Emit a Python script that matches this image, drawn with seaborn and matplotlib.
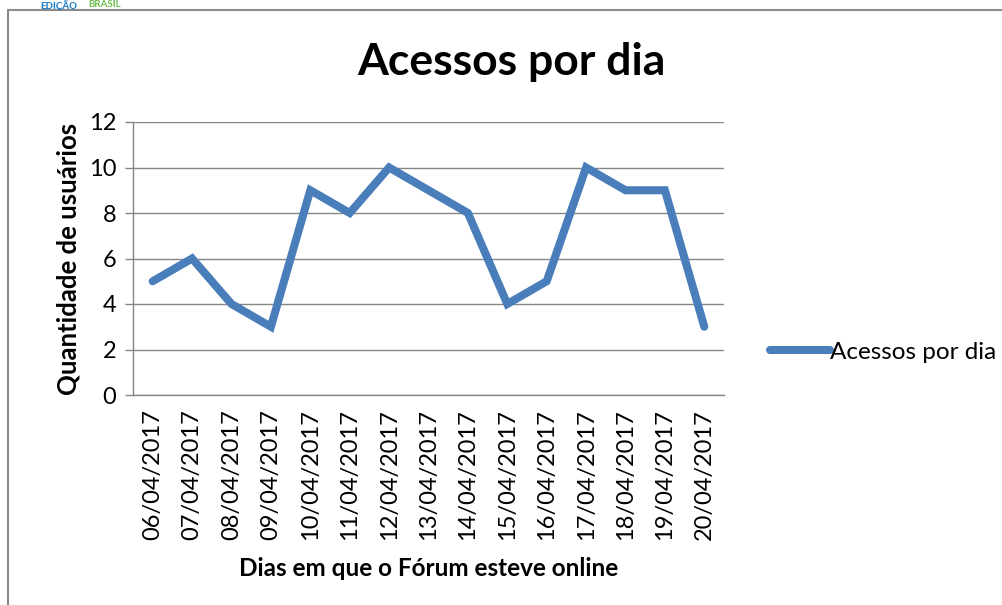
import matplotlib
matplotlib.use("Agg")
import matplotlib.pyplot as plt
import pandas as pd
import seaborn as sns
from matplotlib.lines import Line2D

days = ["06/04/2017", "07/04/2017", "08/04/2017", "09/04/2017", "10/04/2017",
        "11/04/2017", "12/04/2017", "13/04/2017", "14/04/2017", "15/04/2017",
        "16/04/2017", "17/04/2017", "18/04/2017", "19/04/2017", "20/04/2017"]
acessos = [5, 6, 4, 3, 9, 8, 10, 9, 8, 4, 5, 10, 9, 9, 3]
y_ticks = [0, 2, 4, 6, 8, 10, 12]

series_name = "Acessos por dia"
line_color = "#4a7ebb"
grid_color = "#868686"

sns.set_style("white")
plt.rcParams["font.family"] = ["Lato", "DejaVu Sans"]
plt.rcParams["text.color"] = "black"
plt.rcParams["axes.labelcolor"] = "black"
plt.rcParams["xtick.labelcolor"] = "black"
plt.rcParams["ytick.labelcolor"] = "black"

df = pd.DataFrame({"pos": range(len(days)), "valor": acessos})

fig = plt.figure(figsize=(10.03, 6.05), dpi=100)
ax = fig.add_axes([133 / 1003, 1 - 395 / 605, (724 - 133) / 1003, (395 - 122) / 605])

sns.lineplot(data=df, x="pos", y="valor", ax=ax, color=line_color,
             linewidth=5.8, solid_capstyle="round", solid_joinstyle="miter",
             legend=False, zorder=3)

ax.set_xlim(-0.5, len(days) - 0.5)
ax.set_ylim(min(y_ticks), max(y_ticks))
ax.set_yticks(y_ticks)
ax.set_xticks(range(len(days)))
ax.set_xticklabels(days, rotation=90, fontsize=17, va="top")
ax.tick_params(axis="y", labelsize=17, length=6, width=1, color=grid_color,
               labelcolor="black", direction="out", left=True, pad=6)
ax.tick_params(axis="x", length=0, pad=10, labelcolor="black")
ax.yaxis.grid(True, color=grid_color, linewidth=1)
ax.xaxis.grid(False)
for side in ["top", "right"]:
    ax.spines[side].set_visible(False)
for side in ["left", "bottom"]:
    ax.spines[side].set_color(grid_color)
    ax.spines[side].set_linewidth(1)

ax.set_xlabel("Dias em que o Fórum esteve online", fontsize=17.5, fontweight="bold",
              labelpad=12, color="black")
ax.set_ylabel("Quantidade de usuários", fontsize=18.5, fontweight="bold",
              labelpad=6, color="black")
fig.text(511 / 1003, 1 - 62 / 605, series_name, fontsize=32, fontweight="bold",
         ha="center", va="center", color="black")

handle = Line2D([], [], color=line_color, linewidth=5.8, solid_capstyle="round")
fig.legend([handle], [series_name], loc="center left",
           bbox_to_anchor=(760 / 1003, 1 - 352 / 605), frameon=False,
           fontsize=17.5, handlelength=2.5, handletextpad=0.0, borderaxespad=0,
           labelcolor="black")

# outer frame of the chart area
fig.add_artist(Line2D([8 / 1003, 8 / 1003], [0, 1 - 10 / 605],
                      transform=fig.transFigure, color="#8a8a8a", linewidth=1.5))
fig.add_artist(Line2D([8 / 1003, 1], [1 - 10 / 605, 1 - 10 / 605],
                      transform=fig.transFigure, color="#8a8a8a", linewidth=1.5))
# logo strip at the top
fig.text(40 / 1003, 1, "EDIÇÃO", color="#1a7bc4", fontsize=7,
         fontweight="bold", va="top")
fig.text(88 / 1003, 1, "BRASIL", color="#6abf4b", fontsize=7,
         fontweight="bold", va="top")

fig.savefig("out.png", dpi=100)
